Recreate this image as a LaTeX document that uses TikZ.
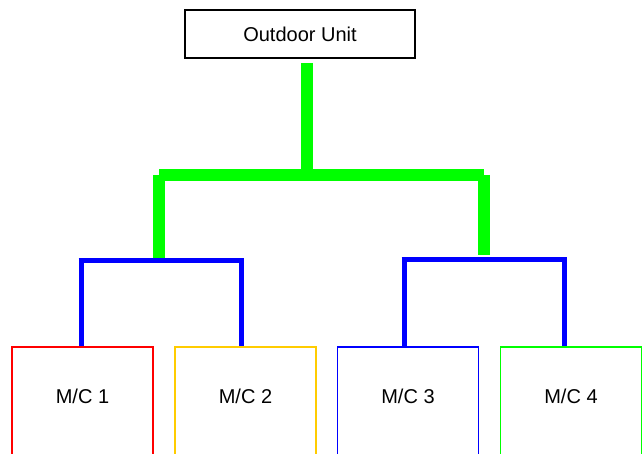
\documentclass[tikz,border=0pt]{standalone}
\usepackage{fontspec}
\setmainfont{Liberation Sans}
\usetikzlibrary{calc}
\definecolor{pipegreen}{RGB}{0,255,0}
\definecolor{pipeblue}{RGB}{0,0,255}
\definecolor{mcred}{RGB}{255,0,0}
\definecolor{mcyellow}{RGB}{255,204,0}
\definecolor{mcblue}{RGB}{0,0,255}
\definecolor{mcgreen}{RGB}{0,255,0}
\tikzset{
  unitbox/.style={draw=black, line width=1.3pt, fill=white, minimum width=230pt, minimum height=48pt, inner sep=0pt, font=\fontsize{20}{23}\selectfont},
  mcbox/.style={line width=1.5pt, minimum width=141pt, minimum height=130pt, inner sep=0pt, anchor=north},
  mctext/.style={font=\fontsize{20}{23}\selectfont, inner sep=0pt},
  mainpipe/.style={draw=pipegreen, line width=12pt, line cap=butt},
  branchpipe/.style={draw=pipeblue, line width=5pt, line cap=butt}
}
\begin{document}
\begin{tikzpicture}[x=1pt,y=-1pt]
\useasboundingbox (0,0) rectangle (642,454);
\clip (0,0) rectangle (642,454);
\fill[white] (0,0) rectangle (642,454);

% outdoor unit
\node[unitbox] (ou) at (300,34) {Outdoor Unit};

% indoor units
\node[mcbox, draw=mcred]    (mc1) at (82.5,346)  {};
\node[mcbox, draw=mcyellow] (mc2) at (245.5,346) {};
\node[mcbox, draw=mcblue]   (mc3) at (408,346)   {};
\node[mcbox, draw=mcgreen]  (mc4) at (571,346)   {};
\node[mctext] (t1) at ($(mc1.north)+(0,50)$) {M/C 1};
\node[mctext] (t2) at ($(mc2.north)+(0,50)$) {M/C 2};
\node[mctext] (t3) at ($(mc3.north)+(0,50)$) {M/C 3};
\node[mctext] (t4) at ($(mc4.north)+(0,50)$) {M/C 4};

% junction coordinates
\coordinate (gtop) at (307,63);
\coordinate (gmid) at (307,175);
\coordinate (gl) at (159,175);
\coordinate (gr) at (484,175);
\coordinate (glend) at (159,260);
\coordinate (grend) at (484,255);
\coordinate (bl1) at (81,261);
\coordinate (bl2) at (241.5,261);
\coordinate (br1) at (404,260);
\coordinate (br2) at (564,260);

% main (green) pipes
\path[mainpipe] (gtop) -- (gmid);
\path[mainpipe] (gl) -- (gr);
\path[mainpipe] (gl) -- (glend);
\path[mainpipe] (gr) -- (grend);

% branch (blue) pipes
\path[branchpipe] ($(bl1)+(-2.5,0)$) -- ($(bl2)+(2.5,0)$);
\path[branchpipe] (bl1) -- (bl1 |- mc1.north);
\path[branchpipe] (bl2) -- (bl2 |- mc2.north);
\path[branchpipe] ($(br1)+(-2.5,0)$) -- ($(br2)+(2.5,0)$);
\path[branchpipe] (br1) -- (br1 |- mc3.north);
\path[branchpipe] (br2) -- (br2 |- mc4.north);
\end{tikzpicture}
\end{document}
